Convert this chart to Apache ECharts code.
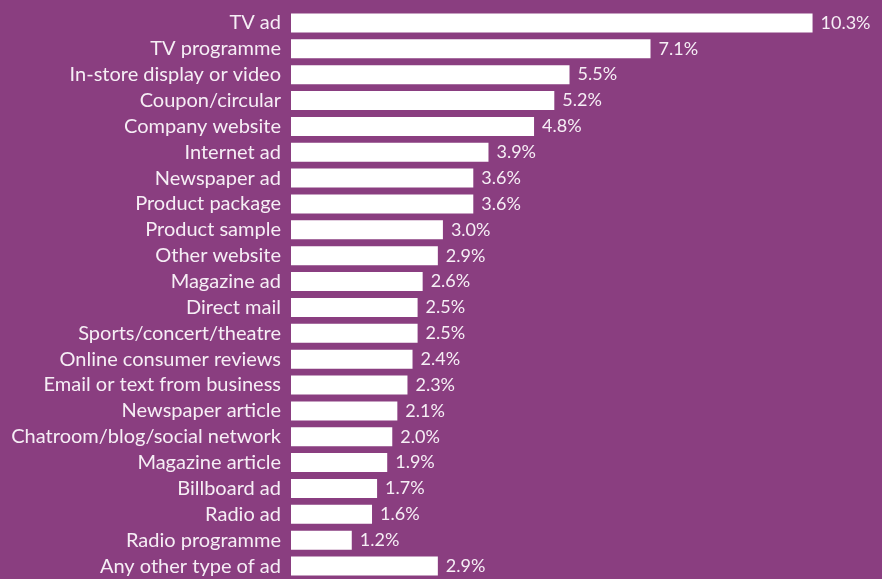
<!DOCTYPE html>
<html><head><meta charset="utf-8">
<script src="https://cdn.jsdelivr.net/npm/echarts@6/dist/echarts.min.js"></script>
<style>html,body{margin:0;padding:0;background:#8a3e80;}#c{width:882px;height:579px;}</style>
</head><body><div id="c"></div>
<script>
const categories = ["TV ad","TV programme","In-store display or video","Coupon/circular","Company website","Internet ad","Newspaper ad","Product package","Product sample","Other website","Magazine ad","Direct mail","Sports/concert/theatre","Online consumer reviews","Email or text from business","Newspaper article","Chatroom/blog/social network","Magazine article","Billboard ad","Radio ad","Radio programme","Any other type of ad"];
const values = [10.3,7.1,5.5,5.2,4.8,3.9,3.6,3.6,3.0,2.9,2.6,2.5,2.5,2.4,2.3,2.1,2.0,1.9,1.7,1.6,1.2,2.9];
const chart = echarts.init(document.getElementById('c'));
chart.setOption({
  backgroundColor: '#8a3e80',
  animation: false,
  grid: {left: 291, top: 10, height: 570, right: 34},
  xAxis: {type: 'value', min: 0, max: 11, show: false},
  yAxis: {type: 'category', data: categories, inverse: true,
    axisLine: {show: false}, axisTick: {show: false},
    axisLabel: {interval: 0, color: '#f6eef5', fontSize: 20, fontFamily: 'Lato, "Open Sans", sans-serif', margin: 10}},
  series: [{type: 'bar', data: values, barWidth: 19,
    itemStyle: {color: '#ffffff'},
    label: {show: true, position: 'right', distance: 8, color: '#f6eef5', fontSize: 18,
      fontFamily: 'Lato, "Open Sans", sans-serif', formatter: p => p.value.toFixed(1) + '%'}}]
});
</script></body></html>
